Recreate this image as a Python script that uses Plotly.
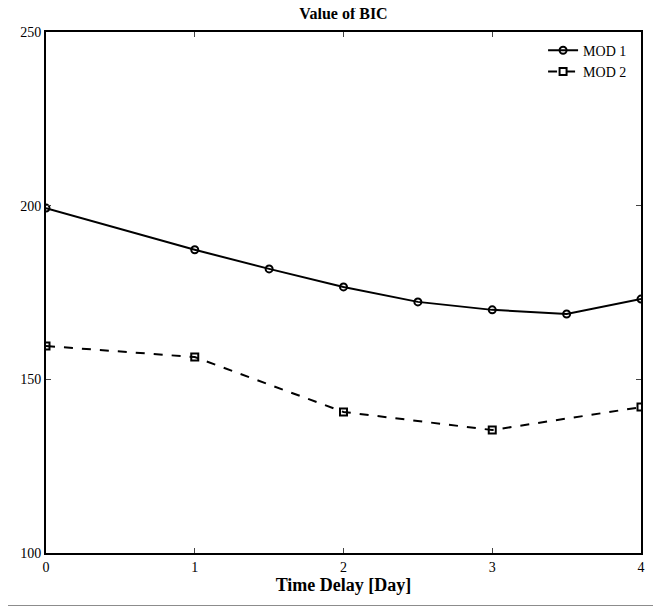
import plotly.graph_objects as go

x_mod1 = [0, 1, 1.5, 2, 2.5, 3, 3.5, 4]
y_mod1 = [199.3, 187.3, 181.8, 176.6, 172.3, 170.0, 168.8, 173.1]
x_mod2 = [0, 1, 2, 3, 4]
y_mod2 = [159.6, 156.4, 140.6, 135.4, 142.0]

fig = go.Figure()
fig.add_trace(go.Scatter(x=x_mod1, y=y_mod1, name="MOD 1", mode="lines+markers",
                         line=dict(color="black", width=2),
                         marker=dict(symbol="circle-open", size=7, color="black", line=dict(width=2))))
fig.add_trace(go.Scatter(x=x_mod2, y=y_mod2, name="MOD 2", mode="lines+markers",
                         line=dict(color="black", width=2, dash="dash"),
                         marker=dict(symbol="square-open", size=7, color="black", line=dict(width=2))))

font = "Liberation Serif"
# page body has an 8px margin; the figure is sized to fit the window
W, H = 653, 598
L, R, T, B = 33, 20, 24, 53
PW, PH = W - L - R, H - T - B

fig.update_layout(
    width=W, height=H,
    margin=dict(l=L, r=R, t=T, b=B),
    plot_bgcolor="white", paper_bgcolor="white",
    font=dict(family=font, size=14, color="black"),
    title=dict(text="<b>Value of BIC</b>", x=0.5, xref="paper", xanchor="center",
               y=1, yref="container", yanchor="top", pad=dict(t=0, b=0),
               font=dict(size=16, family=font)),
    showlegend=True,
    legend=dict(x=0.985, y=0.995, xanchor="right", yanchor="top", bgcolor="rgba(0,0,0,0)",
                font=dict(size=14, family=font), tracegroupgap=0),
    xaxis=dict(range=[0, 4], tickvals=[0, 1, 2, 3, 4], ticks="inside", ticklen=5, tickwidth=1,
               showline=True, linecolor="black", linewidth=2, mirror="ticks", showgrid=False,
               zeroline=False, title=dict(text="<b>Time Delay [Day]</b>", font=dict(size=18), standoff=2),
               tickfont=dict(size=14)),
    yaxis=dict(range=[100, 250], tickvals=[100, 150, 200, 250], ticks="inside", ticklen=5, tickwidth=1,
               showline=True, linecolor="black", linewidth=2, mirror="ticks", showgrid=False,
               zeroline=False, tickfont=dict(size=14)),
)

# grey frame of the picture (right and bottom edges)
gx = (W - 0.5 - L) / PW
gy = -(H - 0.5 - (T + PH)) / PH
fig.add_shape(type="line", xref="paper", yref="paper", x0=gx, x1=gx, y0=gy, y1=(PH + T + 8) / PH,
              line=dict(color="#8c8c8c", width=1))
fig.add_shape(type="line", xref="paper", yref="paper", x0=-(L + 8) / PW, x1=gx, y0=gy, y1=gy,
              line=dict(color="#8c8c8c", width=1))

fig.write_html("out.html")
